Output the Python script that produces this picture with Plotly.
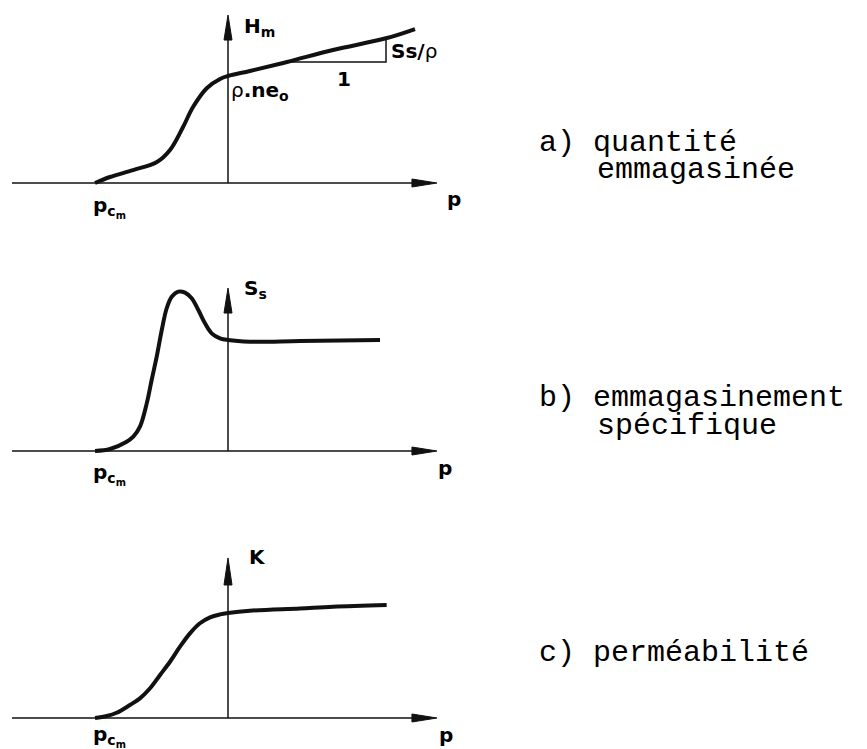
import plotly.graph_objects as go

# ---- data (p in units where p_cm = -1, each curve normalised to 1 at p = 0) ----
p_stored = [-1.0, -0.887, -0.714, -0.534, -0.436, -0.338, -0.263, -0.158, -0.060, 0.0,
            0.165, 0.444, 0.789, 1.195, 1.406]
h_stored = [0.0, 0.056, 0.121, 0.196, 0.308, 0.523, 0.710, 0.888, 0.972, 1.0,
            1.047, 1.131, 1.243, 1.355, 1.439]

# slope triangle on the linear branch of H_m
tri_p = [0.444, 1.188, 1.188]
tri_h = [1.131, 1.131, 1.355]

p_spec = [-1.0, -0.887, -0.762, -0.712, -0.662, -0.611, -0.574, -0.536, -0.498, -0.461,
          -0.423, -0.373, -0.323, -0.273, -0.223, -0.173, -0.123, -0.060, 0.0,
          0.165, 0.541, 1.143]
s_spec = [0.0, 0.018, 0.084, 0.129, 0.219, 0.429, 0.640, 0.850, 1.090, 1.286,
          1.390, 1.436, 1.427, 1.376, 1.270, 1.150, 1.060, 1.015, 1.0,
          0.985, 0.991, 1.0]

p_perm = [-1.0, -0.912, -0.837, -0.737, -0.662, -0.586, -0.511, -0.436, -0.361, -0.286,
          -0.211, -0.135, -0.060, 0.0, 0.165, 0.541, 0.789, 1.193]
k_perm = [0.0, 0.019, 0.050, 0.124, 0.187, 0.283, 0.410, 0.536, 0.679, 0.806,
          0.902, 0.959, 0.987, 1.0, 1.022, 1.044, 1.060, 1.076]

# axis extents (p axis shared, ordinate tips per panel)
p_axis_start = -1.624
p_axis_tip = 1.571
p_head_base = 1.383
ord_tips = [1.570, 1.468, 1.524]
ord_head_bases = [1.336, 1.243, 1.267]

# pixel scales of each panel (px per unit) for the arrowhead widths
PX_P = 133.0
PX_ORD = [107.0, 111.0, 105.0]

W, H = 867, 749
panel_rows = [(0, 240), (240, 500), (500, 749)]
baselines = [183, 451, 718]

LABEL_FONT = dict(family="DejaVu Sans", size=20, color="black")
TEXT_FONT = dict(family="Liberation Mono", size=30, color="black")
INK = "#111111"

fig = go.Figure()

x_range = [-228 / PX_P, (W - 228) / PX_P]

for i, (top, bottom) in enumerate(panel_rows):
    s = PX_ORD[i]
    y_range = [(baselines[i] - bottom) / s, (baselines[i] - top) / s]
    suffix = "" if i == 0 else str(i + 1)
    fig.layout["xaxis" + suffix] = dict(domain=[0, 1], range=x_range, visible=False,
                                         fixedrange=True, anchor="y" + suffix)
    fig.layout["yaxis" + suffix] = dict(domain=[1 - bottom / H, 1 - top / H], range=y_range,
                                         visible=False, fixedrange=True, anchor="x" + suffix)

    xa, ya = "x" + suffix, "y" + suffix
    # p axis line + arrowhead
    fig.add_trace(go.Scatter(x=[p_axis_start, p_head_base + 0.02], y=[0, 0], mode="lines",
                             line=dict(color=INK, width=1.5), xaxis=xa, yaxis=ya,
                             hoverinfo="skip"))
    hw = 4.0 / s
    fig.add_trace(go.Scatter(x=[p_head_base, p_axis_tip, p_head_base, p_head_base],
                             y=[hw, 0, -hw, hw], mode="lines", fill="toself",
                             fillcolor=INK, line=dict(color=INK, width=1),
                             xaxis=xa, yaxis=ya, hoverinfo="skip"))
    # ordinate axis line + arrowhead
    fig.add_trace(go.Scatter(x=[0, 0], y=[0, ord_head_bases[i] + 0.02], mode="lines",
                             line=dict(color=INK, width=1.5), xaxis=xa, yaxis=ya,
                             hoverinfo="skip"))
    vw = 4.0 / PX_P
    fig.add_trace(go.Scatter(x=[-vw, 0, vw, -vw],
                             y=[ord_head_bases[i], ord_tips[i], ord_head_bases[i],
                                ord_head_bases[i]],
                             mode="lines", fill="toself", fillcolor=INK,
                             line=dict(color=INK, width=1), xaxis=xa, yaxis=ya,
                             hoverinfo="skip"))

curves = [(p_stored, h_stored, "x", "y"),
          (p_spec, s_spec, "x2", "y2"),
          (p_perm, k_perm, "x3", "y3")]
for px, py, xa, ya in curves:
    fig.add_trace(go.Scatter(x=px, y=py, mode="lines",
                             line=dict(color=INK, width=4, shape="spline", smoothing=1.0),
                             xaxis=xa, yaxis=ya, hoverinfo="skip"))

fig.add_trace(go.Scatter(x=tri_p, y=tri_h, mode="lines",
                         line=dict(color=INK, width=1.5), xaxis="x", yaxis="y",
                         hoverinfo="skip"))


def label(text, x, y, xref, yref, xanchor="left", font=LABEL_FONT):
    fig.add_annotation(text=text, x=x, y=y, xref=xref, yref=yref, xanchor=xanchor,
                       yanchor="middle", showarrow=False, font=font)


B = "<b>{}</b>"
# panel a labels
label(B.format("H<sub>m</sub>"), 0.105, 1.46, "x", "y")
label(B.format("Ss/") + "ρ", 1.21, 1.23, "x", "y")
label("ρ" + B.format(".ne<sub>o</sub>"), 0.005, 0.86, "x", "y")
label(B.format("1"), 0.872, 0.972, "x", "y", xanchor="center")
label(B.format("p"), 1.699, -0.15, "x", "y", xanchor="center")
label(B.format("p<sub>c<sub>m</sub></sub>"), -1.03, -0.22, "x", "y")
# panel b labels
label(B.format("S<sub>s</sub>"), 0.105, 1.46, "x2", "y2")
label(B.format("p"), 1.632, -0.15, "x2", "y2", xanchor="center")
label(B.format("p<sub>c<sub>m</sub></sub>"), -1.03, -0.21, "x2", "y2")
# panel c labels
label(B.format("K"), 0.14, 1.53, "x3", "y3")
label(B.format("p"), 1.64, -0.16, "x3", "y3", xanchor="center")
label(B.format("p<sub>c<sub>m</sub></sub>"), -1.03, -0.17, "x3", "y3")

# captions on the right
captions = [("a) quantité", 537, 143), ("emmagasinée", 595, 170),
            ("b) emmagasinement", 537, 398), ("spécifique", 595, 426),
            ("c) perméabilité", 537, 653)]
for txt, cx, cy in captions:
    label(txt, cx / W, 1 - cy / H, "paper", "paper", font=TEXT_FONT)

fig.update_layout(width=W, height=H, margin=dict(l=0, r=0, t=0, b=0),
                  paper_bgcolor="white", plot_bgcolor="white", showlegend=False)

fig.write_html("out.html", config={"displayModeBar": False})
